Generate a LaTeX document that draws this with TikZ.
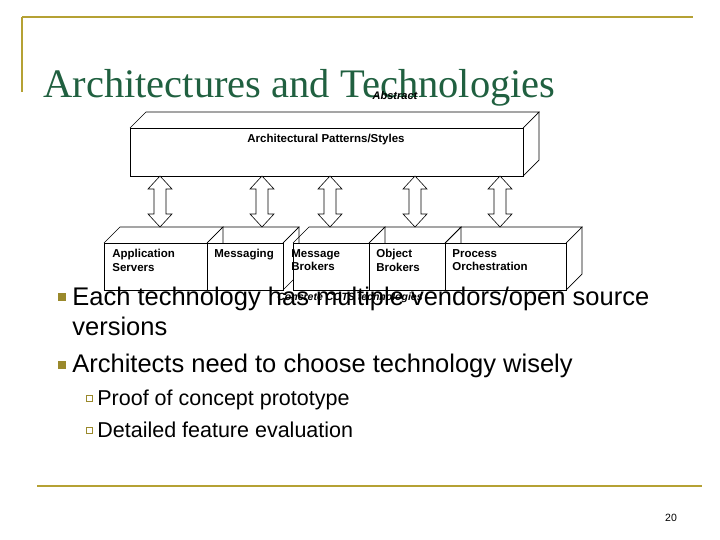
\documentclass[tikz,border=0pt]{standalone}
\usepackage{fontspec}
\setmainfont{Liberation Serif}
\setsansfont{Liberation Sans}
\definecolor{gold}{RGB}{181,161,52}
\definecolor{tgreen}{RGB}{32,96,64}
\begin{document}
\begin{tikzpicture}[x=1pt,y=-1pt,line width=0.7pt,
  lbl/.style={font=\sffamily\bfseries\fontsize{11.5}{13.5}\selectfont,align=left,anchor=north west,inner sep=0},
  btxt/.style={font=\sffamily\fontsize{25.5}{30}\selectfont,anchor=base west,inner sep=0},
  stxt/.style={font=\sffamily\fontsize{21.5}{25}\selectfont,anchor=base west,inner sep=0},
  darr/.style={draw,fill=white,line width=0.6pt}]
\useasboundingbox (0,0) rectangle (720,540);
% frame
\draw[gold,line width=2pt] (22,17) coordinate (f1) -- (693,17) coordinate (f2);
\draw[gold,line width=2pt] (22,17) -- (22,92) coordinate (f3);
\draw[gold,line width=1.5pt] (37,486) coordinate (f4) -- (702,486) coordinate (f5);
\node[font=\fontsize{40.5}{46}\selectfont,text=tgreen,anchor=base west,inner sep=0] (title) at (43,98) {Architectures and Technologies};
\node[font=\sffamily\bfseries\itshape\fontsize{11}{12}\selectfont,inner sep=0] (abs) at (395,96) {Abstract};
% top box
\draw[fill=white] (130,128) rectangle (523,176);
\draw (130,128) -- (146,112) -- (539,112) -- (523,128);
\draw (523,176) -- (539,160) -- (539,112);
\node[lbl,anchor=center] (arch) at (326,140) {Architectural Patterns/Styles};
% double arrows
\foreach \cx [count=\i] in {160,262,330,415,500}{
  \draw[darr] (\cx,176) -- (\cx+12,189) -- (\cx+6,189) -- (\cx+6,214) -- (\cx+12,214) -- (\cx,227)
     -- (\cx-12,214) -- (\cx-6,214) -- (\cx-6,189) -- (\cx-12,189) -- cycle;
}
% bottom boxes
\foreach \a/\b in {104/207,207/283,293/369,369/445,445/566}{
  \draw[fill=white] (\a,243) rectangle (\b,290);
  \draw (\a,243) -- (\a+16,227) -- (\b+16,227) -- (\b,243);
  \draw (\b,290) -- (\b+16,274) -- (\b+16,227);
}
\draw (283,243) -- (299,227);
\node[lbl] (as) at (112,249) {Application\\Servers};
\node[lbl] (ms) at (214,249) {Messaging};
\node[lbl] (mb) at (291,249) {Message\\Brokers};
\node[lbl] (ob) at (376,249) {Object\\Brokers};
\node[lbl] (po) at (452,249) {Process\\Orchestration};
% bullets
\fill[gold!85!black] (58,293) rectangle (66,301);
\fill[gold!85!black] (58,361) rectangle (66,369);
\node[btxt] (b1) at (72,305) {Each technology has multiple vendors/open source};
\node[font=\sffamily\bfseries\itshape\fontsize{10.5}{12}\selectfont,inner sep=0] (conc) at (350,298) {Concrete COTS technologies};
\node[btxt] (b1b) at (72,335) {versions};
\node[btxt] (b2) at (72,372) {Architects need to choose technology wisely};
\draw[gold!85!black,line width=0.6pt] (86,395) rectangle (92,401);
\draw[gold!85!black,line width=0.6pt] (86,427) rectangle (92,433);
\node[stxt] (s1) at (97,405) {Proof of concept prototype};
\node[stxt] (s2) at (97,437) {Detailed feature evaluation};
\node[font=\sffamily\fontsize{10.5}{12}\selectfont,inner sep=0] (pg) at (671,518) {20};
\end{tikzpicture}
\end{document}
